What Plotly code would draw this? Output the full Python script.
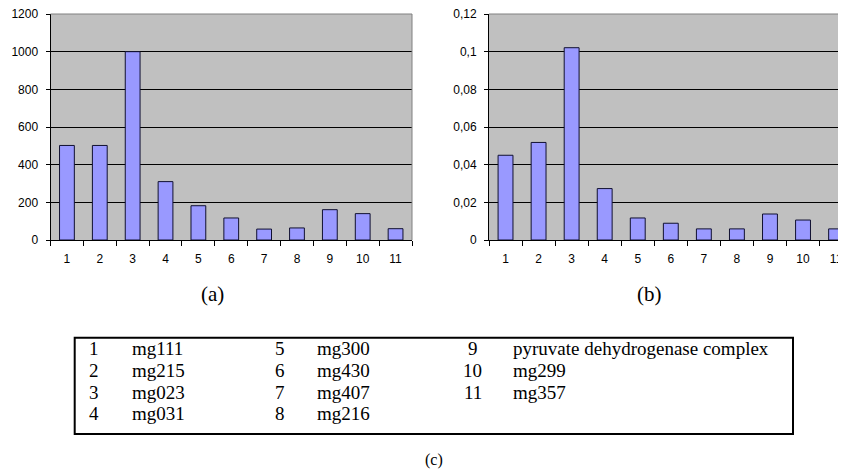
import plotly.graph_objects as go

# page body has an 8px margin; the figure is sized/offset to compensate
OFF = 8
W, H = 846 - OFF, 469 - OFF

categories = [str(i) for i in range(1, 12)]
values_a = [502, 502, 1000, 310, 182, 117, 58, 64, 161, 140, 60]
values_b = [0.045, 0.0518, 0.1021, 0.0273, 0.0117, 0.0089, 0.0059, 0.0059, 0.0138, 0.0106, 0.0059]

yticks_a = [0, 200, 400, 600, 800, 1000, 1200]
yticks_b = [0, 0.02, 0.04, 0.06, 0.08, 0.1, 0.12]
yticktext_b = ["0", "0,02", "0,04", "0,06", "0,08", "0,1", "0,12"]

table_numbers = [["1", "2", "3", "4"], ["5", "6", "7", "8"], ["9", "10", "11"]]
table_names = [["mg111", "mg215", "mg023", "mg031"],
               ["mg300", "mg430", "mg407", "mg216"],
               ["pyruvate dehydrogenase complex", "mg299", "mg357"]]
panel_labels = ["(a)", "(b)", "(c)"]

def px_x(x):
    return (x - OFF) / W

def px_y(y):
    return 1 - (y - OFF) / H

bar_color = "#9999FF"
bg = "#C0C0C0"
tick_font = dict(family="Liberation Sans, Arial, sans-serif", size=12, color="black")
serif = "Liberation Serif, Times New Roman, serif"

fig = go.Figure()
fig.add_trace(go.Bar(x=categories, y=values_a, xaxis="x", yaxis="y",
                     marker=dict(color=bar_color, line=dict(color="#101030", width=1)),
                     showlegend=False))
fig.add_trace(go.Bar(x=categories, y=values_b, xaxis="x2", yaxis="y2",
                     marker=dict(color=bar_color, line=dict(color="#101030", width=1)),
                     showlegend=False))

ydom = [px_y(240), px_y(14)]

xcommon = dict(type="category", showline=True, linecolor="black", linewidth=1,
               ticks="outside", tickson="boundaries", ticklen=5, tickcolor="black",
               showgrid=False, tickfont=tick_font, ticklabelstandoff=8, fixedrange=True,
               automargin=False, ticklabeloverflow="allow")
ycommon = dict(showline=True, linecolor="black", linewidth=1, ticks="outside",
               ticklen=4, tickcolor="black", showgrid=True, gridcolor="black",
               gridwidth=1, zeroline=False, tickfont=tick_font, ticklabelstandoff=5,
               automargin=False, ticklabeloverflow="allow")

fig.update_layout(
    width=W, height=H,
    margin=dict(l=0, r=0, t=0, b=0, pad=0),
    paper_bgcolor="white",
    plot_bgcolor=bg,
    bargap=0.55,
    xaxis=dict(domain=[px_x(50.5), px_x(412)], anchor="y", range=[-0.5, 10.5], **xcommon),
    yaxis=dict(domain=ydom, anchor="x", range=[0, 1200], tickvals=yticks_a,
               ticktext=[str(v) for v in yticks_a], **ycommon),
    xaxis2=dict(domain=[px_x(489), 1.0], anchor="y2", range=[-0.5, 10.3], **xcommon),
    yaxis2=dict(domain=ydom, anchor="x2", range=[0, 0.12], tickvals=yticks_b,
                ticktext=yticktext_b, **ycommon),
)

shapes = []
# gray plot-area border (top/right)
shapes.append(dict(type="line", xref="x domain", yref="y domain", x0=0, x1=1, y0=1, y1=1,
                   line=dict(color="#808080", width=1), layer="above"))
shapes.append(dict(type="line", xref="x domain", yref="y domain", x0=1, x1=1, y0=0, y1=1,
                   line=dict(color="#808080", width=1), layer="above"))
shapes.append(dict(type="line", xref="x2 domain", yref="y2 domain", x0=0, x1=1, y0=1, y1=1,
                   line=dict(color="#808080", width=1), layer="above"))
# table box
shapes.append(dict(type="rect", xref="paper", yref="paper",
                   x0=px_x(74.7), x1=px_x(793), y0=px_y(434), y1=px_y(337.7),
                   line=dict(color="black", width=2), fillcolor="rgba(0,0,0,0)"))

annotations = []
num_x = [94, 280, 472.5]
name_x = [130, 315, 511]
row_y = [348.6, 370.3, 392.0, 413.6]
for c in range(3):
    for r, (n, name) in enumerate(zip(table_numbers[c], table_names[c])):
        annotations.append(dict(xref="paper", yref="paper", x=px_x(num_x[c]), y=px_y(row_y[r]),
                                text=n, showarrow=False, xanchor="center", yanchor="middle",
                                font=dict(family=serif, size=19, color="black")))
        annotations.append(dict(xref="paper", yref="paper", x=px_x(name_x[c]), y=px_y(row_y[r]),
                                text=name, showarrow=False, xanchor="left", yanchor="middle",
                                font=dict(family=serif, size=19, color="black")))

annotations.append(dict(xref="paper", yref="paper", x=px_x(212), y=px_y(294), text=panel_labels[0],
                        showarrow=False, xanchor="center", yanchor="middle",
                        font=dict(family=serif, size=21, color="black")))
annotations.append(dict(xref="paper", yref="paper", x=px_x(649), y=px_y(294), text=panel_labels[1],
                        showarrow=False, xanchor="center", yanchor="middle",
                        font=dict(family=serif, size=21, color="black")))
annotations.append(dict(xref="paper", yref="paper", x=px_x(434), y=px_y(460), text=panel_labels[2],
                        showarrow=False, xanchor="center", yanchor="middle",
                        font=dict(family=serif, size=16, color="black")))

fig.update_layout(shapes=shapes, annotations=annotations)

fig.write_html("out.html")
